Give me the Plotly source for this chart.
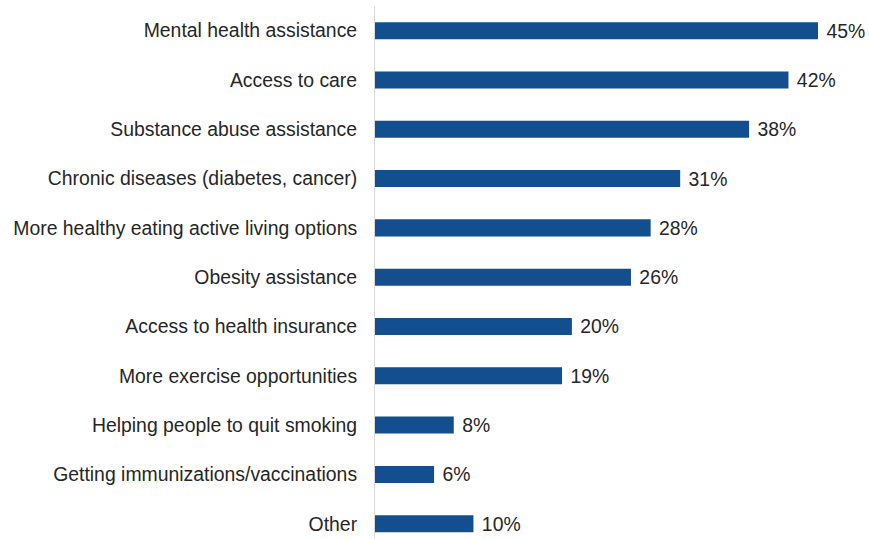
import plotly.graph_objects as go

categories = [
    "Mental health assistance",
    "Access to care",
    "Substance abuse assistance",
    "Chronic diseases (diabetes, cancer)",
    "More healthy eating active living options",
    "Obesity assistance",
    "Access to health insurance",
    "More exercise opportunities",
    "Helping people to quit smoking",
    "Getting immunizations/vaccinations",
    "Other",
]
values = [45, 42, 38, 31, 28, 26, 20, 19, 8, 6, 10]
value_labels = [f" {v}%" for v in values]

FONT = "Liberation Sans, Arial, sans-serif"

fig = go.Figure(
    go.Bar(
        x=values,
        y=categories,
        orientation="h",
        marker=dict(color="#134E8E", line=dict(width=0)),
        width=0.345,
        text=value_labels,
        textposition="outside",
        constraintext="none",
        cliponaxis=False,
        textfont=dict(family=FONT, size=19.4, color="#262626"),
        hoverinfo="skip",
    )
)

fig.update_layout(
    width=869,
    height=539,
    margin=dict(l=375, r=0, t=6, b=0, pad=0, autoexpand=False),
    paper_bgcolor="white",
    plot_bgcolor="white",
    showlegend=False,
    font=dict(family=FONT, size=19.4, color="#262626"),
    xaxis=dict(
        range=[0, 50.18],
        visible=False,
        showgrid=False,
        zeroline=False,
        automargin=False,
    ),
    yaxis=dict(
        type="category",
        range=[10.31, -0.5],
        showgrid=False,
        zeroline=False,
        showline=True,
        linecolor="#d9d9d9",
        linewidth=1,
        ticks="",
        ticklabelstandoff=13,
        automargin=False,
        tickfont=dict(family=FONT, size=19.4, color="#262626"),
    ),
)

fig.write_html(
    "out.html",
    config={"displayModeBar": False, "staticPlot": True},
    post_script="document.body.style.margin='0';document.body.style.overflow='hidden';",
)
